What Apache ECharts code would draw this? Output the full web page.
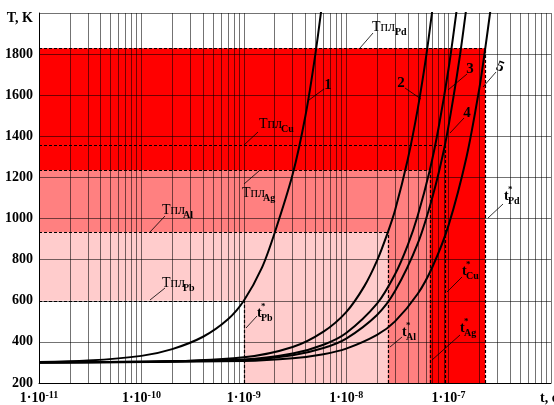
<!DOCTYPE html>
<html>
<head>
<meta charset="utf-8">
<script src="https://cdn.jsdelivr.net/npm/echarts@6/dist/echarts.min.js"></script>
<style>
  html, body { margin: 0; padding: 0; background: #fff; }
  #chart { width: 554px; height: 405px; }
</style>
</head>
<body>
<div id="chart"></div>
<script>
// heating curves T(t): [t, T]
const curve1 = [[1e-11, 302], [3e-11, 309], [1e-10, 332], [2e-10, 365], [4e-10, 425], [7e-10, 510], [1e-9, 600],
  [1.5e-9, 760], [2e-9, 930], [3e-9, 1215], [4e-9, 1500], [5e-9, 1800], [6e-9, 2100]];
const curve2 = [[1e-11, 300], [1e-10, 302], [1e-9, 325], [3e-9, 375], [6e-9, 450], [1e-8, 545], [1.5e-8, 670],
  [2e-8, 795], [2.55e-8, 933], [3e-8, 1040], [4e-8, 1290], [5e-8, 1535], [6e-8, 1780], [7e-8, 2030]];
const curve3 = [[1e-11, 300], [1e-9, 314], [3e-9, 343], [6e-9, 386], [1e-8, 443], [2e-8, 586], [3e-8, 729],
  [4e-8, 872], [5e-8, 1015], [6.55e-8, 1235], [8e-8, 1444], [1e-7, 1730], [1.2e-7, 2016]];
const curve4 = [[1e-11, 300], [1e-9, 312], [3e-9, 335], [6e-9, 370], [1e-8, 416], [2e-8, 531], [3e-8, 647],
  [5e-8, 879], [7e-8, 1110], [9.2e-8, 1357], [1.1e-7, 1573], [1.3e-7, 1804], [1.5e-7, 2036]];
const curve5 = [[1e-11, 300], [1e-9, 307], [3e-9, 320], [6e-9, 340], [1e-8, 367], [2e-8, 434], [3e-8, 500],
  [5e-8, 634], [7e-8, 768], [1e-7, 968], [1.5e-7, 1302], [2e-7, 1636], [2.28e-7, 1828], [2.6e-7, 2037]];

// melting points and melting times
const metals = ['Pb', 'Al', 'Ag', 'Cu', 'Pd'];
const meltT = [600, 933, 1235, 1357, 1828];
const tStar = [1e-9, 2.55e-8, 6.55e-8, 9.2e-8, 2.28e-7];

// axes
const yTicks = [200, 400, 600, 800, 1000, 1200, 1400, 1600, 1800, 2000];
const decades = [1e-11, 1e-10, 1e-9, 1e-8, 1e-7, 1e-6];

const shadeColors = { Pb: '#ffffff', Al: '#ffcccc', Ag: '#ff8080', Cu: '#ff0000', Pd: '#ff0000' };
const serif = '"Liberation Serif", "Times New Roman", serif';
const tMin = 1e-11, tMax = 1e-6, yMin = 200, yMax = 2000;

// grid lines (drawn over the shading)
let gridLines = [];
for (let i = 0; i < decades.length - 1; i++) {
  for (let m = 1; m <= 9; m++) {
    if (i === 0 && m === 1) continue;
    const v = decades[i] * m;
    gridLines.push([{ coord: [v, yMin] }, { coord: [v, yMax] }]);
  }
}
gridLines.push([{ coord: [tMax, yMin] }, { coord: [tMax, yMax] }]);
yTicks.slice(1).forEach(v => gridLines.push([{ coord: [tMin, v] }, { coord: [tMax, v] }]));

// shaded zones, biggest first
let series = [];
for (let i = metals.length - 1; i >= 0; i--) {
  series.push({
    type: 'line', data: [], z: 1 + (metals.length - i), silent: true,
    markArea: {
      silent: true,
      itemStyle: { color: shadeColors[metals[i]], opacity: 1 },
      data: [[{ xAxis: tMin, yAxis: yMin }, { xAxis: tStar[i], yAxis: meltT[i] }]]
    }
  });
}
series.push({
  type: 'line', data: [], z: 7, silent: true,
  markLine: {
    silent: true, symbol: ['none', 'none'], label: { show: false }, animation: false,
    lineStyle: { color: 'rgba(0,0,0,0.55)', width: 1, type: 'solid' },
    data: gridLines
  }
});
// dashed melting lines
let dashed = [];
metals.forEach((m, i) => {
  dashed.push([{ coord: [tMin, meltT[i]] }, { coord: [tStar[i], meltT[i]] }]);
  dashed.push([{ coord: [tStar[i], yMin] }, { coord: [tStar[i], meltT[i]] }]);
});
series.push({
  type: 'line', data: [], z: 8, silent: true,
  markLine: {
    silent: true, symbol: ['none', 'none'], label: { show: false }, animation: false,
    lineStyle: { color: '#000', width: 1.2, type: [3, 2] },
    data: dashed
  }
});
[curve1, curve2, curve3, curve4, curve5].forEach(c => {
  series.push({
    type: 'line', data: c, z: 9, smooth: 0.3, showSymbol: false, silent: true,
    lineStyle: { color: '#000', width: 2 }
  });
});

// annotation helpers (pixel positions)
function txt(x, y, s, size, bold, align, rot) {
  return {
    type: 'text', x: x, y: y, z: 100, silent: true, rotation: rot || 0,
    style: { text: s, font: (bold ? 'bold ' : '') + size + 'px ' + serif, fill: '#000', align: align || 'left', verticalAlign: 'middle' }
  };
}
function seg(x1, y1, x2, y2) {
  return { type: 'line', z: 100, silent: true, shape: { x1: x1, y1: y1, x2: x2, y2: y2 }, style: { stroke: '#000', lineWidth: 0.8 } };
}
function tpl(x, y, sub, dx) {
  return [txt(x, y, 'Tпл', 14, false), txt(x + (dx || 21), y + 5, sub, 10, true)];
}
function tst(x, y, sub) {
  return [txt(x, y, 't', 14, true), txt(x + 4, y - 6, '*', 9, true), txt(x + 4, y + 5, sub, 10, true)];
}

const graphics = [].concat(
  txt(33, 18, 'T, K', 14, true, 'right'),
  txt(540, 398, 't, c', 14, true),
  // curve numbers
  txt(328, 85, '1', 15, true, 'center'), seg(309, 100, 324, 89),
  txt(401, 83, '2', 15, true, 'center'), seg(405, 88, 421, 99),
  txt(470, 69, '3', 15, true, 'center'), seg(467, 74, 448, 90),
  txt(467, 113, '4', 15, true, 'center'), seg(464, 118, 450, 133),
  txt(500, 67, '5', 15, true, 'center', -0.35), seg(496, 72, 483, 87),
  // melting temperatures
  tpl(372, 27, 'Pd', 23), seg(360, 48, 373, 33),
  tpl(259, 124, 'Cu', 22), seg(244, 145, 258, 132),
  tpl(242, 193, 'Ag'), seg(259, 171, 244, 184),
  tpl(162, 210, 'Al'), seg(150, 232, 165, 216),
  tpl(162, 283, 'Pb'), seg(150, 300, 165, 288),
  // melting times
  tst(257, 313, 'Pb'), seg(246, 328, 257, 316),
  tst(402, 332, 'Al'), seg(390, 347, 402, 337),
  tst(460, 328, 'Ag'), seg(432, 360, 460, 335),
  tst(462, 271, 'Cu'), seg(447, 292, 462, 277),
  tst(504, 196, 'Pd'), seg(488, 218, 503, 204)
);

const chart = echarts.init(document.getElementById('chart'));
chart.setOption({
  animation: false,
  grid: { left: 39, right: 0, top: 13, bottom: 22 },
  xAxis: {
    type: 'log', logBase: 10, min: tMin, max: tMax, z: 10,
    axisLine: { show: true, lineStyle: { color: '#000', width: 1 } },
    axisTick: { show: false },
    splitLine: { show: false },
    axisLabel: {
      margin: 7,
      formatter: v => {
        const e = Math.round(Math.log10(v));
        return e === -6 ? '' : '{a|1·10}{b|' + e + '}';
      },
      rich: {
        a: { fontSize: 14, fontWeight: 'bold', fontFamily: serif, color: '#000', lineHeight: 16 },
        b: { fontSize: 10, fontWeight: 'bold', fontFamily: serif, color: '#000', verticalAlign: 'top' }
      }
    }
  },
  yAxis: {
    type: 'value', min: yMin, max: yMax, interval: 200, z: 10,
    axisLine: { show: true, lineStyle: { color: '#000', width: 1 } },
    axisTick: { show: false },
    splitLine: { show: false },
    axisLabel: {
      margin: 6, color: '#000', fontSize: 14, fontWeight: 'bold', fontFamily: serif,
      formatter: v => (v === yMax ? '' : String(v))
    }
  },
  series: series,
  graphic: graphics
});
</script>
</body>
</html>
